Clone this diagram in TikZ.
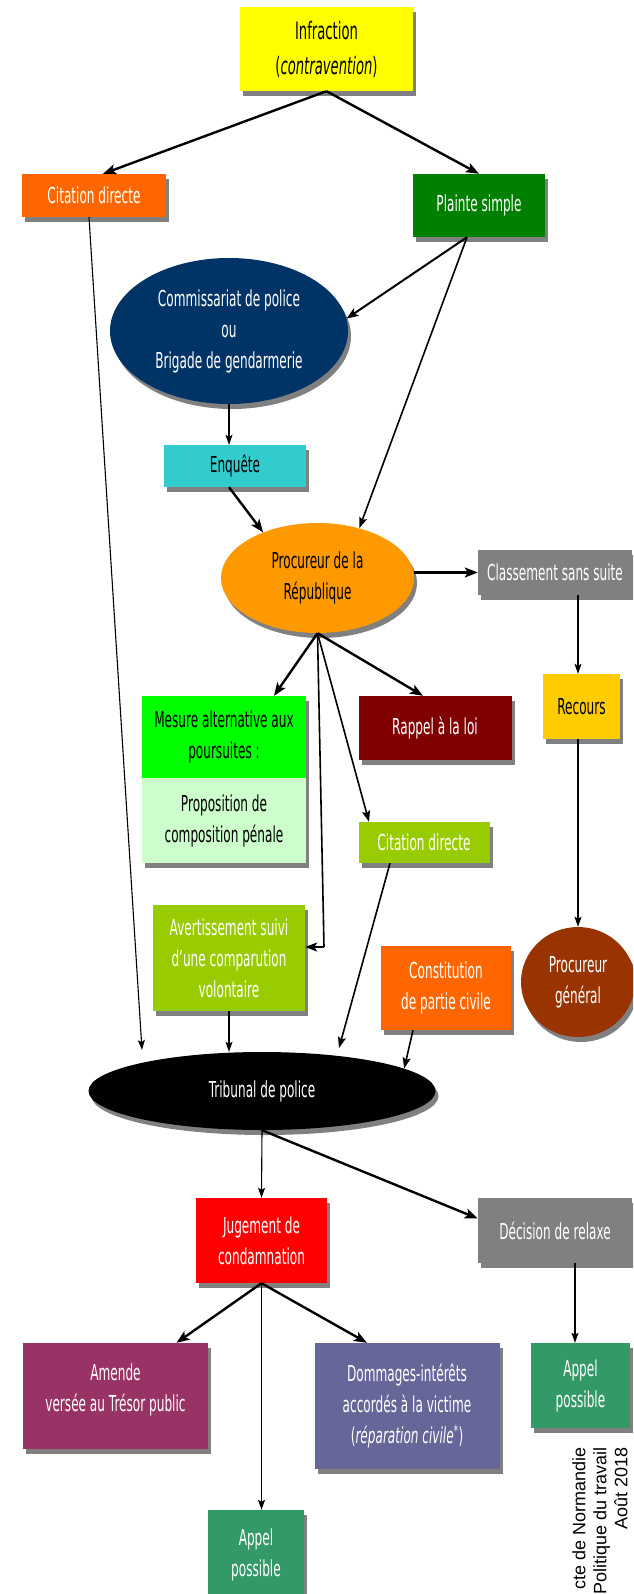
\documentclass[tikz,border=0pt]{standalone}
\usepackage{fontspec}
\setmainfont{DejaVu Sans}[FakeStretch=0.55]
\newfontfamily\footfont{Liberation Sans}
\usetikzlibrary{shapes.geometric,arrows.meta,shadows,calc}
\definecolor{cShadow}{HTML}{808080}
\definecolor{cYel}{HTML}{FFFF00}
\definecolor{cOrange}{HTML}{FF6600}
\definecolor{cDGreen}{HTML}{008000}
\definecolor{cNavy}{HTML}{003366}
\definecolor{cCyan}{HTML}{33CCCC}
\definecolor{cProc}{HTML}{FF9900}
\definecolor{cGray}{HTML}{808080}
\definecolor{cRecours}{HTML}{FFCC00}
\definecolor{cLime}{HTML}{00FF00}
\definecolor{cPale}{HTML}{CCFFCC}
\definecolor{cMaroon}{HTML}{800000}
\definecolor{cOlive}{HTML}{99CC00}
\definecolor{cBrown}{HTML}{993300}
\definecolor{cRed}{HTML}{FF0000}
\definecolor{cPlum}{HTML}{993366}
\definecolor{cSlate}{HTML}{666699}
\definecolor{cSea}{HTML}{339966}
\begin{document}
\begin{tikzpicture}[x=1pt,y=-1pt,
  every node/.style={font=\fontsize{22}{31}\selectfont, inner sep=0pt, align=center},
  sh/.style={general shadow={shadow xshift=3pt,shadow yshift=-5pt,fill=cShadow}},
  rbox/.style={rectangle, sh},
  ebox/.style={ellipse, sh},
  thk/.style={line width=2.4pt, -{Stealth[length=13pt,width=10pt,inset=3pt]}},
  med/.style={line width=1.6pt, -{Stealth[length=11pt,width=8pt,inset=2pt]}},
  thn/.style={line width=1.1pt, -{Stealth[length=10pt,width=7pt,inset=2pt]}},
]
\useasboundingbox (0,0) rectangle (633,1594);
\clip (0,0) rectangle (633,1594);
\fill[white] (0,0) rectangle (633,1594);

% nodes
\node[rbox, fill=cYel, minimum width=173pt, minimum height=84pt, font=\fontsize{24}{35}\selectfont] (infr) at (326.5,49) {Infraction\\(\textit{contravention})};
\node[rbox, fill=cOrange, text=white, minimum width=144pt, minimum height=43pt] (cit1) at (94,195.5) {Citation directe};
\node[rbox, fill=cDGreen, text=white, minimum width=132pt, minimum height=63pt] (plainte) at (479,205.5) {Plainte simple};
\node[ebox, fill=cNavy, text=white, minimum width=238pt, minimum height=146pt] (comm) at (229,331) {Commissariat de police\\ou\\Brigade de gendarmerie};
\node[rbox, fill=cCyan, minimum width=142pt, minimum height=42pt] (enq) at (235,466) {Enquête};
\node[ebox, fill=cProc, minimum width=193pt, minimum height=110pt] (proc) at (317.5,578) {Procureur de la\\République};
\node[rbox, fill=cGray, text=white, minimum width=154pt, minimum height=45pt] (class) at (555,572.5) {Classement sans suite};
\node[rbox, fill=cRecours, minimum width=77pt, minimum height=65pt] (recours) at (581.5,706.5) {Recours};
\node[rbox, fill=cLime, minimum width=163.5pt, minimum height=82pt] (mesA) at (224,737) {Mesure alternative aux\\poursuites :};
\node[rbox, fill=cPale, minimum width=163.5pt, minimum height=85pt] (mesB) at (224,820.5) {Proposition de\\composition pénale};
\node[rbox, fill=cMaroon, text=white, minimum width=153pt, minimum height=64pt] (rappel) at (435,728) {Rappel à la loi};
\node[rbox, fill=cOlive, text=white, minimum width=131pt, minimum height=41pt] (cit2) at (424,842.5) {Citation directe};
\node[rbox, fill=cOlive, text=white, minimum width=152pt, minimum height=106pt] (avert) at (229,958) {Avertissement suivi\\d’une comparution\\volontaire};
\node[rbox, fill=cOrange, text=white, minimum width=130pt, minimum height=84pt] (const) at (446,988) {Constitution\\de partie civile};
\node[ebox, fill=cBrown, text=white, minimum width=114pt, minimum height=110pt] (pg) at (578,982) {Procureur\\général};
\node[ebox, fill=black, text=white, minimum width=347pt, minimum height=78pt] (trib) at (262,1091) {Tribunal de police};
\node[rbox, fill=cRed, text=white, minimum width=131pt, minimum height=85pt] (jug) at (261.5,1240.5) {Jugement de\\condamnation};
\node[rbox, fill=cGray, text=white, minimum width=154pt, minimum height=65pt] (dec) at (555,1230.5) {Décision de relaxe};
\node[rbox, fill=cPlum, text=white, minimum width=185pt, minimum height=106pt] (amende) at (115.5,1396) {Amende\\versée au Trésor public\\[-14pt]};
\node[rbox, fill=cSlate, text=white, minimum width=185pt, minimum height=126pt] (domm) at (407,1406) {Dommages-intérêts\\accordés à la victime\\(\textit{réparation civile}\textsuperscript{*})};
\node[rbox, fill=cSea, text=white, minimum width=99pt, minimum height=85pt] (appelR) at (580.5,1385.5) {Appel\\possible};
\node[rbox, fill=cSea, text=white, minimum width=96pt, minimum height=90pt] (appelB) at (256,1555) {Appel\\possible};

\node[rotate=90, anchor=north east, align=right, font=\footfont\fontsize{18}{21}\selectfont] (foot) at (572,1447) {cte de Normandie\\Politique du travail\\Août 2018};

% coordinates for free ends
\coordinate (c1end) at (142,1050);
\coordinate (c2end) at (339,1048);
\coordinate (avk) at (324,947);

% connectors
\draw[thk] (infr.south) -- ([xshift=9pt]cit1.north);
\draw[thk] (infr.south) -- (plainte.north);
\draw[line width=2pt, -{Stealth[length=12pt,width=9pt,inset=3pt]}] ([xshift=-12pt]plainte.south) -- (comm.6);
\draw[med] ([xshift=-12pt]plainte.south) -- (proc.50);
\draw[thn] (comm.south) -- (comm.south |- enq.north);
\draw[thk] ([xshift=-6pt]enq.south) -- (proc.140);
\draw[thk] (class.west -| proc.east) -- (class.west);
\draw[thn] (class.south -| pg.north) -- (recours.north -| pg.north);
\draw[thn] (recours.south -| pg.north) -- (pg.north);
\draw[thk] (proc.south) -- ([xshift=50pt]mesA.north);
\draw[thk] (proc.south) -- ([xshift=-12pt]rappel.north);
\draw[med] (proc.south) -- ([xshift=-55pt]cit2.north);
\draw[line width=1.6pt] (proc.south) -- (avk);
\draw[line width=2.4pt, -{Stealth[length=12pt,width=9pt,inset=3pt]}] (avk) -- (avk -| avert.east);
\draw[thn] ([xshift=-5pt]cit1.south) -- (c1end);
\draw[thn] (avert.south) -- (avert.south |- trib.north);
\draw[med] ([xshift=-34pt]cit2.south) -- (c2end);
\draw[med] ([xshift=-33pt]const.south) -- (trib.9);
\draw[thn] (trib.south) -- (jug.north);
\draw[thk] (trib.south) -- ([yshift=12pt]dec.west);
\draw[thk] (jug.south) -- ([xshift=61pt]amende.north);
\draw[thk] (jug.south) -- ([xshift=-40pt]domm.north);
\draw[thn] (jug.south) -- (jug.south |- appelB.north);
\draw[thn] ([xshift=20pt]dec.south) -- ([xshift=20pt]dec.south |- appelR.north);
\end{tikzpicture}
\end{document}
